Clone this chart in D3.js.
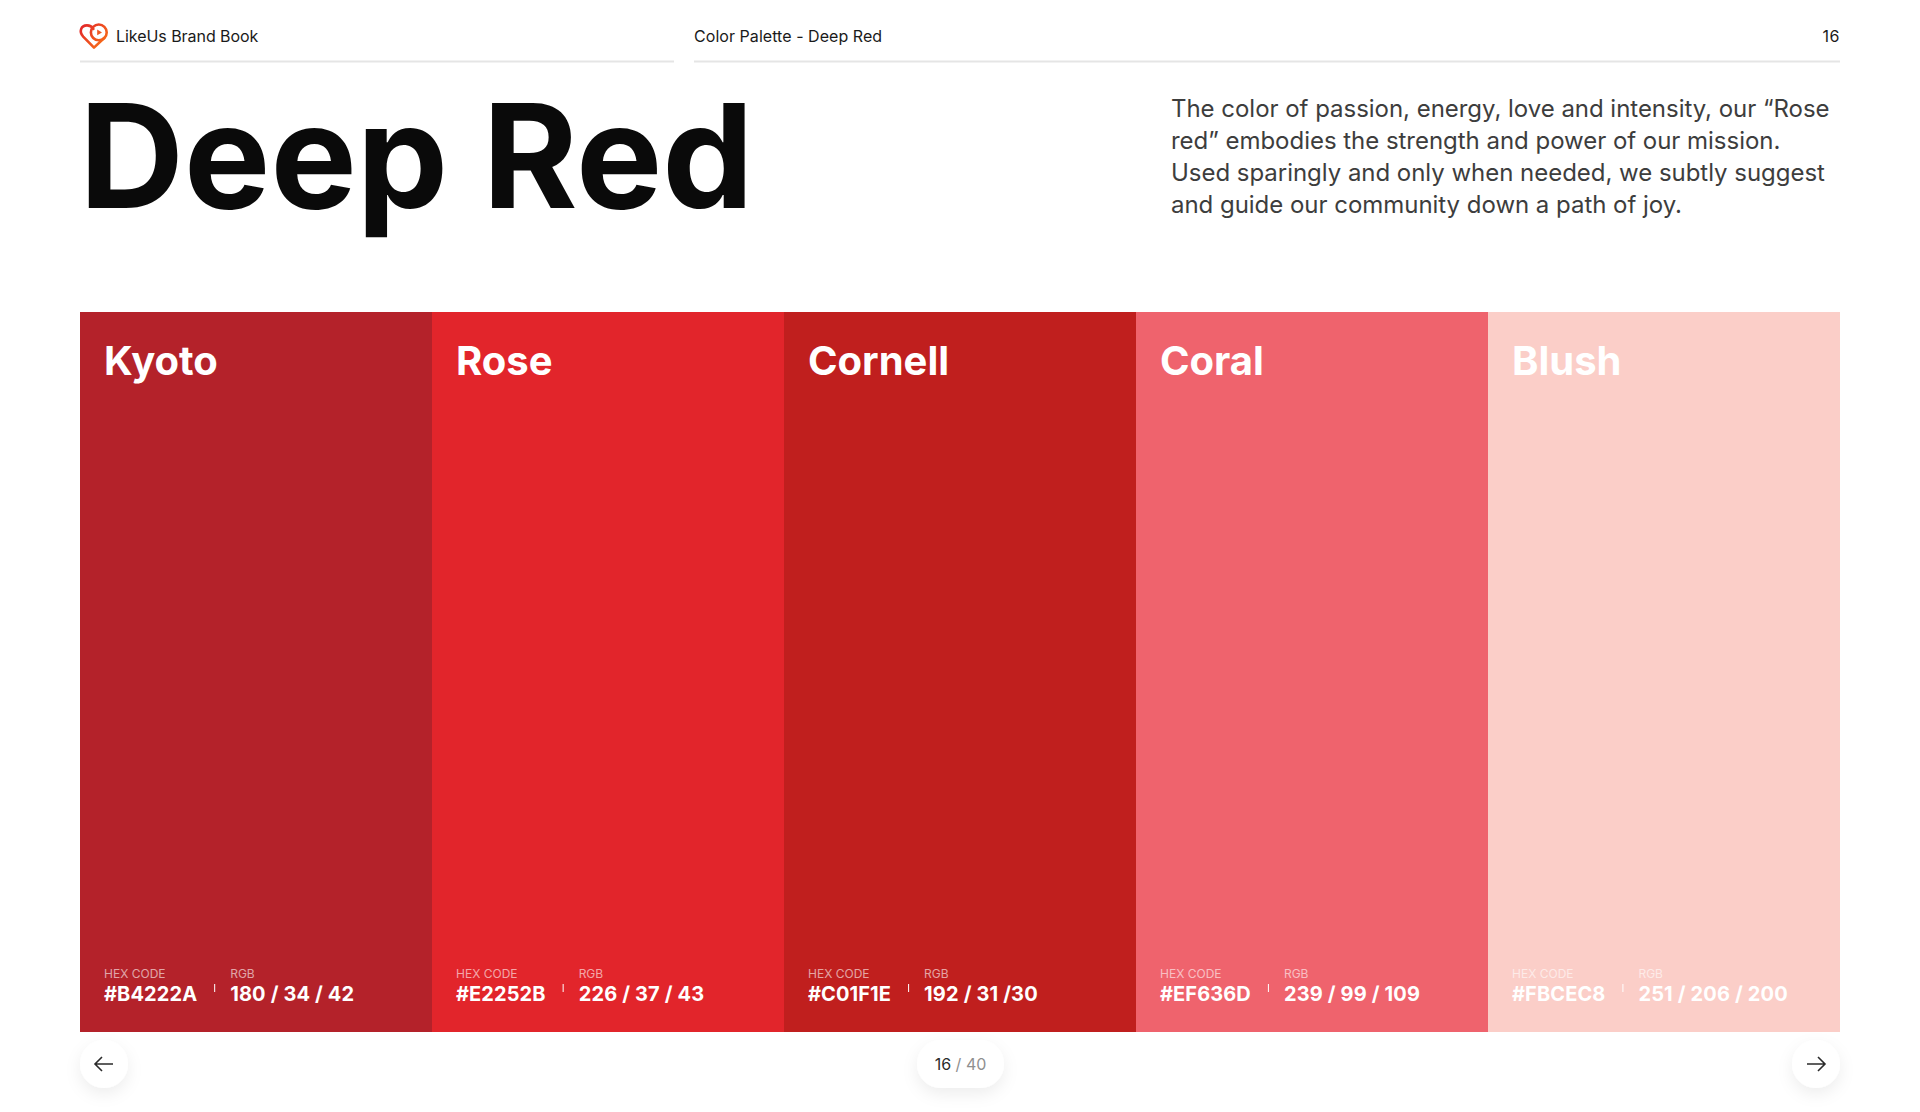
<!DOCTYPE html>
<html>
<head>
<meta charset="utf-8">
<title>Deep Red</title>
<script src="https://cdn.jsdelivr.net/npm/d3@7"></script>
<style>
  html, body { margin: 0; padding: 0; background: #fff; }
  svg { display: block; font-family: Inter, sans-serif; }
</style>
</head>
<body>
<div id="chart"></div>
<script>
const names = ["Kyoto", "Rose", "Cornell", "Coral", "Blush"]
const hexCodes = ["#B4222A", "#E2252B", "#C01F1E", "#EF636D", "#FBCEC8"]
const rgbLabels = ["180 / 34 / 42", "226 / 37 / 43", "192 / 31 /30", "239 / 99 / 109", "251 / 206 / 200"]
const intro = [
  "The color of passion, energy, love and intensity, our “Rose",
  "red” embodies the strength and power of our mission.",
  "Used sparingly and only when needed, we subtly suggest",
  "and guide our community down a path of joy."
]

const WIDTH = 1920
const HEIGHT = 1112
const SWATCH = { LEFT: 80, RIGHT: 1840, TOP: 312, BOTTOM: 1032 }

const svg = d3.select("#chart").append("svg")
  .attr("width", WIDTH)
  .attr("height", HEIGHT)

const defs = svg.append("defs")

const logoGradient = defs.append("linearGradient")
  .attr("id", "logoGradient")
  .attr("gradientUnits", "userSpaceOnUse")
  .attr("x1", 80).attr("y1", 26).attr("x2", 104).attr("y2", 48)
logoGradient.append("stop").attr("offset", "0").attr("stop-color", "#E2252B")
logoGradient.append("stop").attr("offset", "1").attr("stop-color", "#F97316")

const shadow = defs.append("filter")
  .attr("id", "softShadow")
  .attr("x", "-50%").attr("y", "-50%").attr("width", "200%").attr("height", "220%")
shadow.append("feDropShadow")
  .attr("dx", 0).attr("dy", 6).attr("stdDeviation", 8)
  .attr("flood-color", "#000").attr("flood-opacity", 0.07)

// header
const header = svg.append("g")

header.append("path")
  .attr("d", "M94 47.6 L83.2 36.6 C78.6 31.6 81 25.4 87 25.4 C90 25.4 92 26.8 93.4 29 M94 47.6 L104.2 38")
  .attr("fill", "none")
  .attr("stroke", "url(#logoGradient)")
  .attr("stroke-width", 2.6)
  .attr("stroke-linecap", "round")
  .attr("stroke-linejoin", "round")
header.append("circle")
  .attr("cx", 98.8).attr("cy", 32.4).attr("r", 7.9)
  .attr("fill", "none")
  .attr("stroke", "url(#logoGradient)")
  .attr("stroke-width", 2.6)
header.append("path")
  .attr("d", "M97.2 29.6 L102 32.4 L97.2 35.2 Z")
  .attr("fill", "#EF5A24")

header.append("text")
  .attr("x", 116).attr("y", 42)
  .attr("font-size", 16).attr("fill", "#1a1a1a")
  .attr("letter-spacing", -0.05)
  .text("LikeUs Brand Book")
header.append("text")
  .attr("x", 694).attr("y", 42)
  .attr("font-size", 16).attr("fill", "#1a1a1a")
  .attr("letter-spacing", 0.05)
  .text("Color Palette - Deep Red")
header.append("text")
  .attr("x", 1840).attr("y", 42)
  .attr("text-anchor", "end")
  .attr("font-size", 16).attr("fill", "#1a1a1a")
  .attr("letter-spacing", 0.5)
  .text("16")

header.selectAll("rect")
  .data([[80, 594], [694, 1146]])
  .join("rect")
  .attr("x", d => d[0]).attr("y", 60.5)
  .attr("width", d => d[1]).attr("height", 2)
  .attr("fill", "#E5E5E5")

// title and intro
svg.append("text")
  .attr("x", 79.3).attr("y", 208)
  .attr("font-size", 145).attr("font-weight", 700)
  .attr("fill", "#0A0A0A")
  .text("Deep Red")

svg.append("g")
  .selectAll("text")
  .data(intro)
  .join("text")
  .attr("x", 1171)
  .attr("y", (d, i) => 117 + i * 32)
  .attr("font-size", 24)
  .attr("letter-spacing", -0.03)
  .attr("fill", "#3D3D3D")
  .text(d => d)

// swatches
const x = d3.scaleBand().domain(names).range([SWATCH.LEFT, SWATCH.RIGHT])

const swatch = svg.append("g")
  .selectAll("g")
  .data(names)
  .join("g")
  .attr("transform", d => `translate(${x(d)}, ${SWATCH.TOP})`)

swatch.append("rect")
  .attr("width", x.bandwidth())
  .attr("height", SWATCH.BOTTOM - SWATCH.TOP)
  .attr("fill", (d, i) => hexCodes[i])

swatch.append("text")
  .attr("x", 24).attr("y", 63)
  .attr("font-size", 40).attr("font-weight", 700)
  .attr("fill", "#fff")
  .text(d => d)

swatch.append("text")
  .attr("x", 24).attr("y", 666)
  .attr("font-size", 12)
  .attr("fill", "#fff").attr("fill-opacity", 0.6)
  .text("HEX CODE")

const hexText = swatch.append("text")
  .attr("x", 24).attr("y", 689)
  .attr("font-size", 20).attr("font-weight", 700)
  .attr("letter-spacing", 0.1)
  .attr("fill", "#fff")
  .text((d, i) => hexCodes[i])

// rgb column follows the hex width, so it moves swatch by swatch
const rgbX = hexText.nodes().map(n => 24 + n.getComputedTextLength() + 33)

swatch.append("rect")
  .attr("x", (d, i) => rgbX[i] - 16)
  .attr("y", 672)
  .attr("width", 1).attr("height", 8)
  .attr("fill", "#fff")

swatch.append("text")
  .attr("x", (d, i) => rgbX[i]).attr("y", 666)
  .attr("font-size", 12)
  .attr("fill", "#fff").attr("fill-opacity", 0.6)
  .text("RGB")

swatch.append("text")
  .attr("x", (d, i) => rgbX[i]).attr("y", 689)
  .attr("font-size", 20).attr("font-weight", 700)
  .attr("letter-spacing", 0.15)
  .attr("fill", "#fff")
  .text((d, i) => rgbLabels[i])

// footer nav
const footer = svg.append("g")

footer.selectAll("circle")
  .data([104, 1816])
  .join("circle")
  .attr("cx", d => d).attr("cy", 1064).attr("r", 24)
  .attr("fill", "#fff")
  .attr("filter", "url(#softShadow)")

footer.append("rect")
  .attr("x", 917).attr("y", 1040)
  .attr("width", 87).attr("height", 48).attr("rx", 24)
  .attr("fill", "#fff")
  .attr("filter", "url(#softShadow)")

footer.selectAll("path")
  .data(["M113 1064 H95 M102 1057 L95 1064 L102 1071", "M1807 1064 H1825 M1818 1057 L1825 1064 L1818 1071"])
  .join("path")
  .attr("d", d => d)
  .attr("fill", "none")
  .attr("stroke", "#2B2B2B")
  .attr("stroke-width", 1.6)

const pager = footer.append("text")
  .attr("x", 960.5).attr("y", 1069.5)
  .attr("text-anchor", "middle")
  .attr("font-size", 16)
pager.append("tspan").attr("fill", "#2B2B2B").text("16")
pager.append("tspan").attr("fill", "#8F8F8F").text(" / 40")
</script>
</body>
</html>
